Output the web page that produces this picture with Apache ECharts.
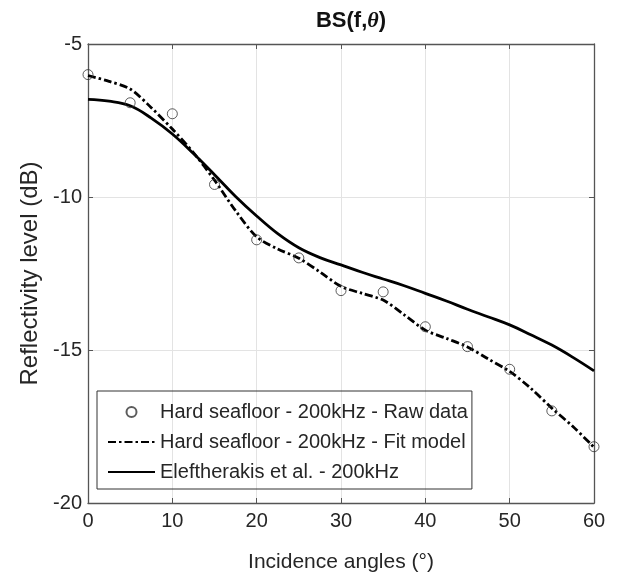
<!DOCTYPE html>
<html><head><meta charset="utf-8">
<script src="https://cdn.jsdelivr.net/npm/echarts@6/dist/echarts.min.js"></script>
<style>html,body{margin:0;padding:0;background:#fff}#c{width:619px;height:578px}</style>
</head><body><div id="c"></div>
<script>
const rawAngles = [0,5,10,15,20,25,30,35,40,45,50,55,60];
const rawValues = [-6.0,-6.92,-7.28,-9.59,-11.4,-11.99,-13.06,-13.1,-14.24,-14.89,-15.63,-16.99,-18.16];
const fitAngles = [0,2.5,5,7.5,10,12.5,15,17.5,20,22.5,25,27.5,30,32.5,35,37.5,40,42.5,45,47.5,50,52.5,55,57.5,60];
const fitValues = [-6.03,-6.22,-6.47,-7.08,-7.78,-8.55,-9.45,-10.45,-11.3,-11.7,-12.0,-12.45,-12.92,-13.15,-13.37,-13.85,-14.35,-14.62,-14.9,-15.3,-15.7,-16.25,-16.9,-17.5,-18.18];
const elAngles = [0,2.5,5,7.5,10,12.5,15,17.5,20,22.5,25,27.5,30,32.5,35,37.5,40,42.5,45,47.5,50,52.5,55,57.5,60];
const elValues = [-6.81,-6.87,-7.02,-7.42,-7.94,-8.58,-9.27,-9.98,-10.62,-11.2,-11.66,-11.98,-12.22,-12.46,-12.68,-12.9,-13.15,-13.4,-13.67,-13.92,-14.18,-14.5,-14.84,-15.24,-15.68];
const xTicks = {min:0, max:60, interval:10};
const yTicks = {min:-20, max:-5, interval:5};
const xLabel = 'Incidence angles (°)';
const yLabel = 'Reflectivity level (dB)';
const names = ['Hard seafloor - 200kHz - Raw data','Hard seafloor - 200kHz - Fit model','Eleftherakis et al. - 200kHz'];

const font = '"Liberation Sans", Arial, sans-serif';
const axisCol = '#555';
const txtCol = '#262626';
const chart = echarts.init(document.getElementById('c'), null, {renderer:'canvas'});
function zip(a,b){return a.map((v,i)=>[v,b[i]]);}
const baseX = {type:'value', min:xTicks.min, max:xTicks.max, interval:xTicks.interval,
  axisLine:{show:true,onZero:false,lineStyle:{color:axisCol,width:1.3}},
  axisTick:{show:true,inside:true,length:5,lineStyle:{color:axisCol}}};
const baseY = {type:'value', min:yTicks.min, max:yTicks.max, interval:yTicks.interval,
  axisLine:{show:true,onZero:false,lineStyle:{color:axisCol,width:1.3}},
  axisTick:{show:true,inside:true,length:5,lineStyle:{color:axisCol}}};
chart.setOption({
  animation:false,
  backgroundColor:'#fff',
  title:{text:'{b|BS(f,}{i|θ}{b|)}',left:346,textAlign:'center',top:5,
    textStyle:{rich:{b:{fontFamily:font,fontSize:22,fontWeight:'bold',color:'#111'},
                     i:{fontFamily:'"Liberation Serif", serif',fontSize:22,fontStyle:'italic',color:'#111'}}}},
  grid:{left:88,right:25,top:44,bottom:75},
  legend:{orient:'vertical',left:97,top:391,data:names,
    borderColor:'#333',borderWidth:1,padding:[9,4,5,10],itemGap:6,itemWidth:47,itemHeight:10,
    textStyle:{fontFamily:font,fontSize:20,lineHeight:24,color:txtCol}},
  xAxis:[Object.assign({},baseX,{position:'bottom',
      name:xLabel,nameLocation:'middle',nameGap:49,nameTextStyle:{fontFamily:font,fontSize:21,color:txtCol},
      axisLabel:{fontFamily:font,fontSize:20,color:txtCol,margin:8},
      splitLine:{show:true,lineStyle:{color:'#e3e3e3'}}}),
    Object.assign({},baseX,{position:'top',axisLabel:{show:false},splitLine:{show:false}})],
  yAxis:[Object.assign({},baseY,{position:'left',
      name:yLabel,nameLocation:'middle',nameGap:46,nameTextStyle:{fontFamily:font,fontSize:24,color:txtCol},
      axisLabel:{fontFamily:font,fontSize:20,color:txtCol,margin:6},
      splitLine:{show:true,lineStyle:{color:'#e3e3e3'}}}),
    Object.assign({},baseY,{position:'right',axisLabel:{show:false},splitLine:{show:false}})],
  series:[
    {name:names[0],type:'scatter',data:zip(rawAngles,rawValues),symbol:'circle',symbolSize:10,
      itemStyle:{color:'rgba(255,255,255,0)',borderColor:'#333',borderWidth:1},z:5},
    {name:names[1],type:'line',data:zip(fitAngles,fitValues),symbol:'none',smooth:0.3,
      lineStyle:{color:'#000',width:2.8,type:[8,3,2.5,3]},itemStyle:{color:'#000'}},
    {name:names[2],type:'line',data:zip(elAngles,elValues),symbol:'none',smooth:0.4,
      lineStyle:{color:'#000',width:2.8,type:'solid'},itemStyle:{color:'#000'}}
  ]
});
chart.setOption({legend:{data:[{name:names[0]},{name:names[1],itemStyle:{opacity:0}},{name:names[2],itemStyle:{opacity:0}}]}});
</script></body></html>
